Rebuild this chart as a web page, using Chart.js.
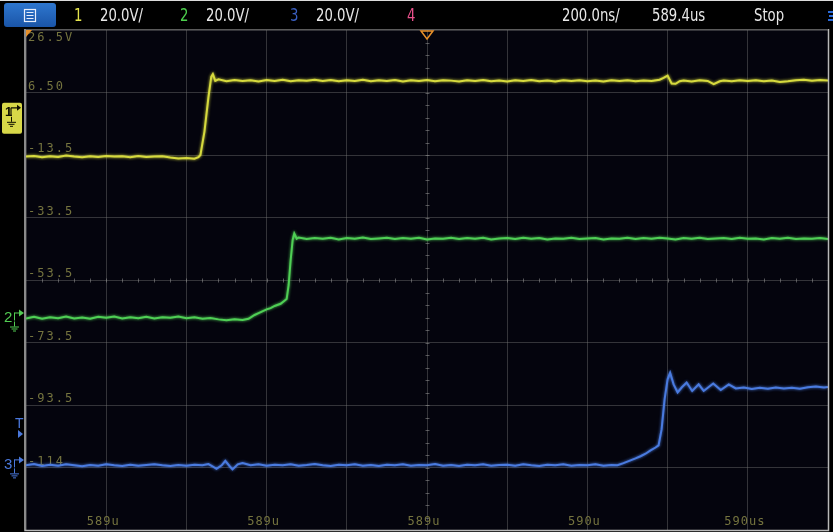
<!DOCTYPE html>
<html><head><meta charset="utf-8">
<script src="https://cdn.jsdelivr.net/npm/chart.js@4/dist/chart.umd.min.js"></script>
<style>html,body{margin:0;padding:0;background:#000;}#wrap{width:833px;height:532px;}</style>
</head><body><div id="wrap"><canvas id="c" width="833" height="532"></canvas></div>
<script>
// ---- axis definitions ----
const timeTicks = [588.4,588.6,588.8,589.0,589.2,589.4,589.6,589.8,590.0,590.2,590.4];
const timeTickLabels = ["","589u","","589u","","589u","","590u","","590us",""];
const voltTicks = [26.5,6.5,-13.5,-33.5,-53.5,-73.5,-93.5,-113.5,-133.5];
const voltTickLabels = ["26.5V","6.50","-13.5","-33.5","-53.5","-73.5","-93.5","-114",""];
const headerTexts = ["1","20.0V/","2","20.0V/","3","20.0V/","4","200.0ns/","589.4us","Stop"];

// ---- channel 1 (yellow) ----
const ch1Time = [588.40,588.42,588.44,588.46,588.48,588.50,588.52,588.54,588.56,588.58,588.60,588.62,588.64,588.66,588.68,588.70,588.72,588.74,588.76,588.78,588.80,588.82,588.83,588.835,588.845,588.855,588.862,588.866,588.872,
588.88,588.90,588.92,588.94,588.96,588.98,589.00,589.02,589.04,589.06,589.08,589.10,589.12,589.14,589.16,589.18,589.20,589.22,589.24,589.26,589.28,589.30,589.32,589.34,589.36,589.38,589.40,589.42,589.44,589.46,589.48,589.50,589.52,589.54,589.56,589.58,589.60,589.62,589.64,589.66,589.68,589.70,589.72,589.74,589.76,589.78,589.80,589.82,589.84,589.86,589.88,589.90,589.92,589.94,589.96,589.98,589.99,590.00,590.01,590.02,590.03,590.04,590.06,590.08,590.10,590.115,590.13,590.14,590.16,590.18,590.20,590.22,590.24,590.26,590.28,590.30,590.32,590.34,590.36,590.38,590.40];
const ch1Volt = [-14.0,-13.8,-14.2,-13.9,-14.1,-13.7,-14.0,-14.2,-13.9,-14.1,-13.8,-14.0,-13.9,-14.2,-13.8,-14.1,-14.0,-13.9,-14.3,-14.6,-14.5,-14.7,-14.2,-13.5,-6.0,5.0,11.5,12.4,10.2,
10.7,10.1,10.5,10.2,10.4,10.0,10.5,10.2,10.6,10.1,10.4,10.3,10.6,10.2,10.5,10.1,10.4,10.2,10.6,10.1,10.4,10.2,10.5,10.0,10.4,10.2,10.5,10.1,10.4,10.3,10.0,10.4,10.2,10.5,10.1,10.3,10.0,10.4,10.2,10.5,10.1,10.3,10.0,10.4,10.2,10.4,10.1,10.3,10.0,10.4,10.2,10.4,10.1,10.3,10.2,10.6,11.2,11.9,9.4,9.3,10.1,10.3,10.0,10.4,10.2,9.2,10.1,10.3,10.1,10.4,10.2,10.4,10.1,10.3,9.9,10.1,10.4,10.6,10.3,10.5,10.3];

// ---- channel 2 (green) ----
const ch2Time = [588.40,588.42,588.44,588.46,588.48,588.50,588.52,588.54,588.56,588.58,588.60,588.62,588.64,588.66,588.68,588.70,588.72,588.74,588.76,588.78,588.80,588.82,588.84,588.86,588.88,588.90,588.92,588.94,588.955,588.97,588.98,589.00,589.01,589.02,589.035,589.05,589.055,589.06,589.065,589.069,589.075,
589.08,589.10,589.12,589.14,589.16,589.18,589.20,589.22,589.24,589.26,589.28,589.30,589.32,589.34,589.36,589.38,589.40,589.42,589.44,589.46,589.48,589.50,589.52,589.54,589.56,589.58,589.60,589.62,589.64,589.66,589.68,589.70,589.72,589.74,589.76,589.78,589.80,589.82,589.84,589.86,589.88,589.90,589.92,589.94,589.96,589.98,590.00,590.02,590.04,590.06,590.08,590.10,590.12,590.14,590.16,590.18,590.20,590.22,590.24,590.26,590.28,590.30,590.32,590.34,590.36,590.38,590.40];
const ch2Volt = [-0.3,0.2,-0.4,0.1,-0.2,0.3,-0.3,0.0,-0.4,0.2,-0.1,0.3,-0.3,0.1,-0.2,0.2,-0.3,0.1,-0.1,0.3,-0.2,0.1,-0.4,-0.2,-0.6,-0.9,-0.6,-0.8,-0.4,0.8,1.4,2.6,3.0,3.7,4.4,5.9,10.4,18.4,24.8,26.9,25.2,
25.6,25.1,25.4,25.2,25.5,25.0,25.4,25.2,25.6,25.1,25.3,25.5,25.1,25.4,25.2,25.5,25.0,25.3,25.2,25.5,25.1,25.4,25.2,25.5,25.0,25.3,25.4,25.1,25.5,25.2,25.4,25.0,25.3,25.2,25.5,25.1,25.3,25.4,25.0,25.3,25.2,25.5,25.1,25.4,25.2,25.5,25.3,25.0,25.4,25.2,25.5,25.1,25.3,25.4,25.1,25.5,25.2,25.3,25.0,25.4,25.2,25.5,25.1,25.3,25.2,25.4,25.1,25.3];

// ---- channel 3 (blue) ----
const ch3Time = [588.40,588.42,588.44,588.46,588.48,588.50,588.52,588.54,588.56,588.58,588.60,588.62,588.64,588.66,588.68,588.70,588.72,588.74,588.76,588.78,588.80,588.82,588.84,588.855,588.865,588.875,588.888,588.897,588.908,588.915,588.928,588.94,588.96,588.98,
589.00,589.02,589.04,589.06,589.08,589.10,589.12,589.14,589.16,589.18,589.20,589.22,589.24,589.26,589.28,589.30,589.32,589.34,589.36,589.38,589.40,589.42,589.44,589.46,589.48,589.50,589.52,589.54,589.56,589.58,589.60,589.62,589.64,589.66,589.68,589.70,589.72,589.74,589.76,589.78,589.80,589.82,589.84,589.86,589.875,589.89,589.9075,589.92,589.9325,589.945,589.9575,589.97,589.9775,589.985,589.9925,590.000,590.0063,590.015,590.025,590.035,590.0475,590.0613,590.0775,590.09,590.1138,590.1325,590.1525,590.17,590.19,590.21,590.23,590.25,590.27,590.29,590.31,590.33,590.35,590.37,590.39,590.40];
const ch3Volt = [-0.3,0.1,-0.5,-0.1,-0.4,0.0,-0.3,-0.6,-0.2,-0.4,0.0,-0.3,-0.5,-0.1,-0.4,-0.2,0.0,-0.3,-0.5,-0.2,-0.4,-0.1,-0.3,0.1,-0.6,-1.4,-0.3,1.1,-0.6,-1.6,0.0,0.4,-0.3,0.0,
-0.4,-0.1,-0.3,0.0,-0.4,-0.2,0.1,-0.3,-0.5,-0.1,-0.3,0.0,-0.4,-0.2,-0.5,-0.1,-0.3,0.0,-0.4,-0.2,-0.3,0.1,-0.4,-0.2,-0.5,-0.1,-0.3,0.0,-0.4,-0.2,-0.1,-0.4,0.0,-0.3,-0.5,-0.1,-0.3,0.0,-0.4,-0.2,-0.3,0.0,-0.4,-0.2,-0.3,0.4,1.3,1.9,2.6,3.4,4.5,5.4,6.1,11.2,20.8,27.2,29.3,25.6,23.0,24.6,26.2,23.5,25.6,23.5,25.9,23.8,25.6,24.3,24.6,24.1,24.5,24.2,24.6,24.3,24.5,24.2,24.7,24.9,24.6,24.8];

const toXY = (t, v) => t.map((x, i) => ({x: x, y: v[i]}));

const scopePlugin = {
  id: 'scope',
  beforeDraw(chart) {
    const ctx = chart.ctx, a = chart.chartArea;
    ctx.save();
    ctx.fillStyle = '#000000';
    ctx.fillRect(0, 0, chart.width, chart.height);
    ctx.fillStyle = '#04040d';
    ctx.fillRect(a.left, a.top, a.right - a.left, a.bottom - a.top);
    // header
    ctx.fillStyle = '#dcdcdc';
    ctx.fillRect(0, 0, chart.width, 1);
    const g = ctx.createLinearGradient(0, 2, 0, 27);
    g.addColorStop(0, '#2f78d0'); g.addColorStop(1, '#1a55a8');
    ctx.fillStyle = g;
    ctx.beginPath(); ctx.roundRect(4, 3, 52, 24, 3); ctx.fill();
    ctx.strokeStyle = '#e8eefc'; ctx.lineWidth = 1.2;
    ctx.strokeRect(24.5, 9.5, 11, 12);
    ctx.beginPath();
    ctx.moveTo(26.5, 12.5); ctx.lineTo(33.5, 12.5);
    ctx.moveTo(26.5, 15.5); ctx.lineTo(33.5, 15.5);
    ctx.moveTo(26.5, 18.5); ctx.lineTo(33.5, 18.5);
    ctx.stroke();
    ctx.font = '16px "Liberation Sans Narrow", "DejaVu Sans Condensed", sans-serif';
    ctx.textBaseline = 'middle'; ctx.textAlign = 'left';
    const hx = [74, 100, 180, 206, 290, 316, 407, 562, 652, 754];
    const hc = ['#e4e44c', '#e8e8e8', '#4ccf4c', '#e8e8e8', '#3a5fc0', '#e8e8e8', '#e8508a', '#e8e8e8', '#e8e8e8', '#e8e8e8'];
    headerTexts.forEach((s, i) => {
      ctx.save(); ctx.translate(hx[i], 17); ctx.scale(0.92, 1.08);
      ctx.fillStyle = hc[i]; ctx.fillText(s, 0, 0); ctx.restore();
    });
    ctx.fillStyle = '#2a6ad8';
    ctx.fillRect(828, 11, 5, 2); ctx.fillRect(829, 15, 4, 2); ctx.fillRect(828, 19, 5, 2);
    ctx.restore();
  },
  beforeDatasetsDraw(chart) {
    const ctx = chart.ctx, a = chart.chartArea;
    const xs = chart.scales.x, ys = chart.scales.y;
    ctx.save();
    // minor ticks on centre lines
    ctx.strokeStyle = 'rgba(150,150,150,0.55)'; ctx.lineWidth = 1;
    const cy = Math.round(ys.getPixelForValue(-53.5)) + 0.5;
    const cx = Math.round(xs.getPixelForValue(589.4)) + 0.5;
    const dx = (xs.getPixelForValue(588.6) - xs.getPixelForValue(588.4)) / 5;
    const dy = (ys.getPixelForValue(6.5) - ys.getPixelForValue(26.5)) / 5;
    ctx.beginPath();
    for (let x = a.left + dx; x < a.right; x += dx) { const px = Math.round(x) + 0.5; ctx.moveTo(px, cy - 2); ctx.lineTo(px, cy + 2); }
    for (let y = a.top + dy; y < a.bottom; y += dy) { const py = Math.round(y) + 0.5; ctx.moveTo(cx - 2, py); ctx.lineTo(cx + 2, py); }
    ctx.stroke();
    // tick labels (volts, channel 1)
    ctx.fillStyle = '#75743f';
    ctx.font = '12px "DejaVu Sans Mono", monospace';
    ctx.letterSpacing = '2px';
    ctx.textAlign = 'left';
    voltTicks.forEach((v, i) => {
      const s = voltTickLabels[i]; if (!s) return;
      const py = ys.getPixelForValue(v);
      if (i === 0) { ctx.textBaseline = 'top'; ctx.fillText(s, a.left + 2, py + 2); }
      else { ctx.textBaseline = 'bottom'; ctx.fillText(s, a.left + 2, py); }
    });
    ctx.letterSpacing = '1px';
    ctx.textAlign = 'center'; ctx.textBaseline = 'bottom';
    timeTicks.forEach((t, i) => {
      const s = timeTickLabels[i]; if (!s) return;
      ctx.fillText(s, xs.getPixelForValue(t) - 3, a.bottom - 2);
    });
    ctx.letterSpacing = '0px';
    ctx.restore();
  },
  beforeDatasetDraw(chart, args) {
    const ctx = chart.ctx;
    ctx.save();
    ctx.shadowColor = args.meta.dataset.options.borderColor;
    ctx.shadowBlur = 3;
  },
  afterDatasetDraw(chart) {
    chart.ctx.restore();
  },
  afterDraw(chart) {
    const ctx = chart.ctx, a = chart.chartArea;
    const xs = chart.scales.x, y1 = chart.scales.y, y2 = chart.scales.y2, y3 = chart.scales.y3;
    ctx.save();
    // frame
    ctx.strokeStyle = '#b8b8b8'; ctx.lineWidth = 1.5;
    ctx.beginPath();
    ctx.moveTo(a.left - 1, a.top - 1); ctx.lineTo(a.left - 1, a.bottom + 0.5);
    ctx.lineTo(a.right + 0.5, a.bottom + 0.5); ctx.lineTo(a.right + 0.5, a.top - 1);
    ctx.stroke();
    ctx.strokeStyle = '#5a5a5a'; ctx.lineWidth = 1;
    ctx.beginPath(); ctx.moveTo(a.left, a.top - 0.5); ctx.lineTo(a.right, a.top - 0.5); ctx.stroke();
    // trigger position marker
    const tx = xs.getPixelForValue(589.4);
    ctx.strokeStyle = '#e8902a'; ctx.lineWidth = 1.5;
    ctx.beginPath(); ctx.moveTo(tx - 6, a.top + 1); ctx.lineTo(tx + 6, a.top + 1); ctx.lineTo(tx, a.top + 9); ctx.closePath(); ctx.stroke();
    ctx.fillStyle = '#e8902a';
    ctx.beginPath(); ctx.moveTo(a.left, a.top); ctx.lineTo(a.left + 6, a.top); ctx.lineTo(a.left, a.top + 7); ctx.closePath(); ctx.fill();
    // channel ground markers
    const g1 = y1.getPixelForValue(0), g2 = y2.getPixelForValue(0), g3 = y3.getPixelForValue(0);
    ctx.fillStyle = '#d8d848';
    ctx.beginPath(); ctx.roundRect(2, g1 - 10, 20, 31, 2); ctx.fill();
    ctx.fillStyle = '#101000';
    ctx.font = 'bold 13px "Liberation Sans Narrow", sans-serif'; ctx.textBaseline = 'middle'; ctx.textAlign = 'left';
    ctx.fillText('1', 5, g1);
    const ground = (x, y, col) => {
      ctx.strokeStyle = col; ctx.lineWidth = 1;
      ctx.beginPath();
      ctx.moveTo(x + 0.5, y); ctx.lineTo(x + 0.5, y + 5);
      ctx.moveTo(x - 4, y + 5.5); ctx.lineTo(x + 5, y + 5.5);
      ctx.moveTo(x - 2.5, y + 7.5); ctx.lineTo(x + 3.5, y + 7.5);
      ctx.moveTo(x - 1, y + 9.5); ctx.lineTo(x + 2, y + 9.5);
      ctx.stroke();
    };
    ctx.strokeStyle = '#101000'; ctx.lineWidth = 1.2;
    ctx.beginPath(); ctx.moveTo(11, g1 - 5); ctx.lineTo(11, g1 + 3); ctx.moveTo(11, g1 - 5); ctx.lineTo(17, g1 - 5); ctx.stroke();
    ctx.fillStyle = '#101000';
    ctx.beginPath(); ctx.moveTo(17, g1 - 8); ctx.lineTo(21, g1 - 5); ctx.lineTo(17, g1 - 2); ctx.fill();
    ground(11, g1 + 4, '#101000');
    const chMark = (label, y, col) => {
      ctx.fillStyle = col;
      ctx.font = '15px "Liberation Sans Narrow", sans-serif'; ctx.textBaseline = 'middle';
      ctx.fillText(label, 4, y);
      ctx.strokeStyle = col; ctx.lineWidth = 1;
      ctx.beginPath(); ctx.moveTo(14.5, y - 5); ctx.lineTo(14.5, y + 3); ctx.moveTo(14.5, y - 4.5); ctx.lineTo(19, y - 4.5); ctx.stroke();
      ctx.beginPath(); ctx.moveTo(19, y - 8); ctx.lineTo(24, y - 4.5); ctx.lineTo(19, y - 1); ctx.fill();
      ground(14, y + 4, col);
    };
    chMark('2', g2, '#52cc52');
    chMark('3', g3, '#4a78dc');
    ctx.fillStyle = '#4a78dc';
    ctx.font = '14px "Liberation Sans Narrow", sans-serif';
    ctx.fillText('T', 15, 424);
    ctx.beginPath(); ctx.moveTo(18, 430); ctx.lineTo(23, 434); ctx.lineTo(18, 438); ctx.fill();
    ctx.restore();
  }
};

new Chart(document.getElementById('c'), {
  type: 'line',
  data: {
    datasets: [
      { label: 'CH1', data: toXY(ch1Time, ch1Volt), yAxisID: 'y', borderColor: '#d6da3e', borderWidth: 2 },
      { label: 'CH2', data: toXY(ch2Time, ch2Volt), yAxisID: 'y2', borderColor: '#4fcf55', borderWidth: 2 },
      { label: 'CH3', data: toXY(ch3Time, ch3Volt), yAxisID: 'y3', borderColor: '#4a7be0', borderWidth: 2 }
    ]
  },
  options: {
    responsive: false, animation: false, devicePixelRatio: 1,
    layout: { padding: { left: 26, right: 5, top: 30, bottom: 2 } },
    elements: { point: { radius: 0 }, line: { tension: 0 } },
    plugins: { legend: { display: false }, tooltip: { enabled: false } },
    scales: {
      x: {
        type: 'linear', min: 588.4, max: 590.4,
        afterBuildTicks: s => { s.ticks = timeTicks.map(v => ({ value: v })); },
        ticks: { display: false },
        grid: { color: 'rgba(120,120,120,0.42)', drawTicks: false, lineWidth: 1 },
        border: { display: false }
      },
      y: {
        min: -133.5, max: 26.5,
        afterBuildTicks: s => { s.ticks = voltTicks.map(v => ({ value: v })); },
        ticks: { display: false },
        grid: { color: 'rgba(120,120,120,0.42)', drawTicks: false, lineWidth: 1 },
        border: { display: false }
      },
      y2: { display: false, min: -68, max: 92 },
      y3: { display: false, min: -21, max: 139 }
    }
  },
  plugins: [scopePlugin]
});
</script>
</body></html>
